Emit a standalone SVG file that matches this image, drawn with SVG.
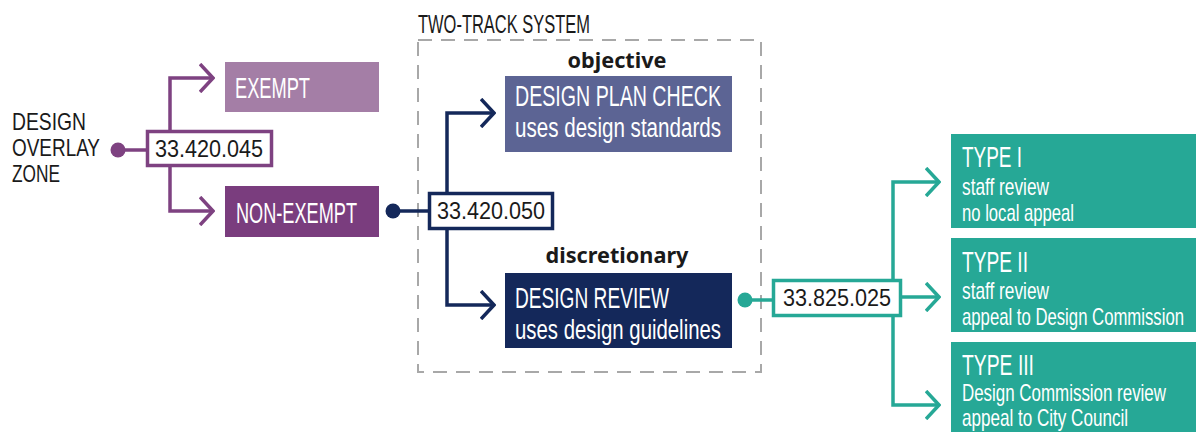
<svg xmlns="http://www.w3.org/2000/svg" width="1196" height="432" viewBox="0 0 1196 432">
<style>
.cond{font-family:"Liberation Sans Narrow","Liberation Sans",Arial,sans-serif;}
.lbl{font-family:"Liberation Sans Narrow","Liberation Sans",Arial,sans-serif;fill:#1a1a1a;font-size:24px;}
.white{fill:#ffffff;}
.title{font-size:30px;}
.sub{font-size:27px;}
.tsub{font-size:24px;}
.code{font-family:"Liberation Sans Narrow","Liberation Sans",Arial,sans-serif;font-size:24px;fill:#1a1a1a;}
.bold{font-family:"Noto Sans","Liberation Sans",Arial,sans-serif;font-weight:bold;font-size:21px;fill:#1a1a1a;}
.ln{fill:none;stroke-width:3.5;stroke-linejoin:miter;}
.pur{stroke:#7e4281;}
.nav{stroke:#14285a;}
.tea{stroke:#26a896;}
</style>
<defs>
<marker id="ap" viewBox="0 0 16 30" refX="14" refY="15" markerWidth="16" markerHeight="30" markerUnits="userSpaceOnUse" orient="auto"><polyline points="1,1 14,15 1,29" fill="none" stroke="#7e4281" stroke-width="3.5"/></marker>
<marker id="an" viewBox="0 0 16 30" refX="14" refY="15" markerWidth="16" markerHeight="30" markerUnits="userSpaceOnUse" orient="auto"><polyline points="1,1 14,15 1,29" fill="none" stroke="#14285a" stroke-width="3.5"/></marker>
<marker id="at" viewBox="0 0 16 30" refX="14" refY="15" markerWidth="16" markerHeight="30" markerUnits="userSpaceOnUse" orient="auto"><polyline points="1,1 14,15 1,29" fill="none" stroke="#26a896" stroke-width="3.5"/></marker>
</defs>
<rect width="1196" height="432" fill="#ffffff"/>

<g id="two-track">
<rect x="418" y="40" width="343" height="332" fill="none" stroke="#a8a8a8" stroke-width="2" stroke-dasharray="14 9"/>
<text class="lbl" x="418" y="33" textLength="172" lengthAdjust="spacingAndGlyphs" style="font-size:25px">TWO-TRACK SYSTEM</text>
</g>

<g id="connectors">
<path class="ln pur" d="M118,150 H147"/>
<path class="ln pur" d="M170,130 V78 H213" marker-end="url(#ap)"/>
<path class="ln pur" d="M170,166 V211 H213" marker-end="url(#ap)"/>
<circle cx="118" cy="150" r="7.5" fill="#7e4281"/>
<path class="ln nav" d="M393,211 H428"/>
<path class="ln nav" d="M447,193 V113 H494" marker-end="url(#an)"/>
<path class="ln nav" d="M447,229 V305 H494" marker-end="url(#an)"/>
<circle cx="393" cy="211" r="7.5" fill="#14285a"/>
<path class="ln tea" d="M745,300 H772"/>
<path class="ln tea" d="M893,279 V182 H939" marker-end="url(#at)"/>
<path class="ln tea" d="M902,297 H939" marker-end="url(#at)"/>
<path class="ln tea" d="M893,316 V405 H939" marker-end="url(#at)"/>
<circle cx="745" cy="300" r="7.5" fill="#26a896"/>
</g>

<g id="dozone">
<text class="lbl" x="12" y="130" textLength="74" lengthAdjust="spacingAndGlyphs">DESIGN</text>
<text class="lbl" x="12" y="156" textLength="88" lengthAdjust="spacingAndGlyphs">OVERLAY</text>
<text class="lbl" x="12" y="182" textLength="48" lengthAdjust="spacingAndGlyphs">ZONE</text>
</g>

<g id="code-045">
<rect x="147.5" y="131.5" width="124" height="34" fill="#ffffff" stroke="#7e4281" stroke-width="3.5"/>
<text class="code" x="155" y="157" textLength="108" lengthAdjust="spacingAndGlyphs">33.420.045</text>
</g>

<g id="exempt">
<rect x="225" y="62" width="154" height="50" fill="#a47ea6"/>
<text class="cond white title" x="235" y="98" textLength="75" lengthAdjust="spacingAndGlyphs">EXEMPT</text>
</g>

<g id="non-exempt">
<rect x="225" y="186" width="154" height="51" fill="#7a3d7e"/>
<text class="cond white title" x="236" y="223" textLength="121" lengthAdjust="spacingAndGlyphs">NON-EXEMPT</text>
</g>

<g id="code-050">
<rect x="429.5" y="193.5" width="123" height="35" fill="#ffffff" stroke="#14285a" stroke-width="3.5"/>
<text class="code" x="437" y="219" textLength="108" lengthAdjust="spacingAndGlyphs">33.420.050</text>
</g>

<g id="plan-check">
<text class="bold" x="617" y="68" text-anchor="middle" textLength="99" lengthAdjust="spacingAndGlyphs">objective</text>
<rect x="505" y="76" width="227" height="76" fill="#5c6494"/>
<text class="cond white title" x="515" y="106" textLength="206" lengthAdjust="spacingAndGlyphs">DESIGN PLAN CHECK</text>
<text class="cond white sub" x="515" y="137" textLength="206" lengthAdjust="spacingAndGlyphs">uses design standards</text>
</g>

<g id="design-review">
<text class="bold" x="617" y="263" text-anchor="middle" textLength="143" lengthAdjust="spacingAndGlyphs">discretionary</text>
<rect x="505" y="273" width="227" height="75" fill="#14285a"/>
<text class="cond white title" x="515" y="308" textLength="154" lengthAdjust="spacingAndGlyphs">DESIGN REVIEW</text>
<text class="cond white sub" x="515" y="339" textLength="206" lengthAdjust="spacingAndGlyphs">uses design guidelines</text>
</g>

<g id="code-025">
<rect x="773.5" y="280.5" width="127" height="35" fill="#ffffff" stroke="#26a896" stroke-width="3.5"/>
<text class="code" x="783" y="306" textLength="108" lengthAdjust="spacingAndGlyphs">33.825.025</text>
</g>

<g id="type1">
<rect x="951" y="134" width="245" height="94" fill="#26a896"/>
<text class="cond white title" x="962" y="167" textLength="60" lengthAdjust="spacingAndGlyphs">TYPE I</text>
<text class="cond white tsub" x="962" y="195" textLength="87" lengthAdjust="spacingAndGlyphs">staff review</text>
<text class="cond white tsub" x="962" y="221" textLength="112" lengthAdjust="spacingAndGlyphs">no local appeal</text>
</g>

<g id="type2">
<rect x="951" y="238" width="245" height="94" fill="#26a896"/>
<text class="cond white title" x="962" y="272" textLength="66" lengthAdjust="spacingAndGlyphs">TYPE II</text>
<text class="cond white tsub" x="962" y="299" textLength="87" lengthAdjust="spacingAndGlyphs">staff review</text>
<text class="cond white tsub" x="962" y="325" textLength="222" lengthAdjust="spacingAndGlyphs">appeal to Design Commission</text>
</g>

<g id="type3">
<rect x="951" y="342" width="245" height="90" fill="#26a896"/>
<text class="cond white title" x="962" y="375" textLength="72" lengthAdjust="spacingAndGlyphs">TYPE III</text>
<text class="cond white tsub" x="962" y="401" textLength="204" lengthAdjust="spacingAndGlyphs">Design Commission review</text>
<text class="cond white tsub" x="962" y="426" textLength="166" lengthAdjust="spacingAndGlyphs">appeal to City Council</text>
</g>
</svg>
